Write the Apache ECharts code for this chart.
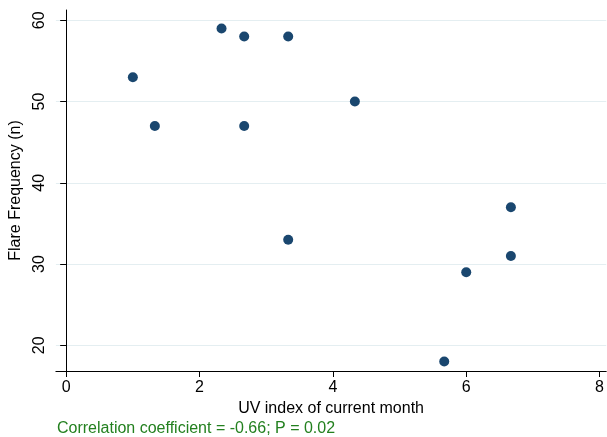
<!DOCTYPE html>
<html>
<head>
<meta charset="utf-8">
<script src="https://cdn.jsdelivr.net/npm/echarts@6/dist/echarts.min.js"></script>
<style>
    html, body { margin: 0; padding: 0; background: #fff; }
    #chart { width: 607px; height: 437px; }
</style>
</head>
<body>
<div id="chart"></div>
<script>
// UV index of current month vs flare frequency
var uvIndex = [1, 1.33, 2.33, 2.67, 2.67, 3.33, 3.33, 4.33, 5.67, 6, 6.67, 6.67];
var flareCount = [53, 47, 59, 58, 47, 58, 33, 50, 18, 29, 37, 31];
var xTicks = [0, 2, 4, 6, 8];
var yTicks = [20, 30, 40, 50, 60];
var noteText = 'Correlation coefficient = -0.66; P = 0.02';

var points = uvIndex.map(function (x, i) { return [x, flareCount[i]]; });

var font = 'Liberation Sans, Arial, Helvetica, sans-serif';
var myChart = echarts.init(document.getElementById('chart'));
var option = {
    backgroundColor: '#fff',
    animation: false,
    textStyle: { fontFamily: font },
    title: {
        text: noteText,
        left: 57,
        top: 421,
        padding: 0,
        textStyle: { color: '#23801f', fontSize: 16, fontWeight: 'normal', fontFamily: font }
    },
    grid: { left: 54, top: 10, right: 0, bottom: 66 },
    xAxis: {
        type: 'value',
        min: -0.154,
        max: 8.1,
        name: 'UV index of current month',
        nameLocation: 'middle',
        nameGap: 26,
        nameTextStyle: { color: '#000', fontSize: 16, fontFamily: font },
        axisLine: { show: true, lineStyle: { color: '#000', width: 1 } },
        axisTick: { show: true, length: 6, customValues: xTicks, lineStyle: { color: '#000' } },
        axisLabel: { customValues: xTicks, color: '#000', fontSize: 16, margin: 9, fontFamily: font },
        splitLine: { show: false }
    },
    yAxis: {
        type: 'value',
        min: 16.84,
        max: 61.27,
        name: 'Flare Frequency (n)',
        nameLocation: 'middle',
        nameGap: 23,
        nameTextStyle: { color: '#000', fontSize: 16, fontFamily: font },
        axisLine: { show: true, lineStyle: { color: '#000', width: 1 } },
        axisTick: { show: true, length: 6, customValues: yTicks, lineStyle: { color: '#000' } },
        axisLabel: { customValues: yTicks, rotate: 90, color: '#000', fontSize: 16, margin: 8, fontFamily: font },
        splitLine: { show: true, lineStyle: { color: '#e4eef1', width: 1 } }
    },
    series: [{
        type: 'scatter',
        data: points,
        symbol: 'circle',
        symbolSize: 10,
        itemStyle: { color: '#1a476f', opacity: 1 }
    }]
};
myChart.setOption(option);
</script>
</body>
</html>
